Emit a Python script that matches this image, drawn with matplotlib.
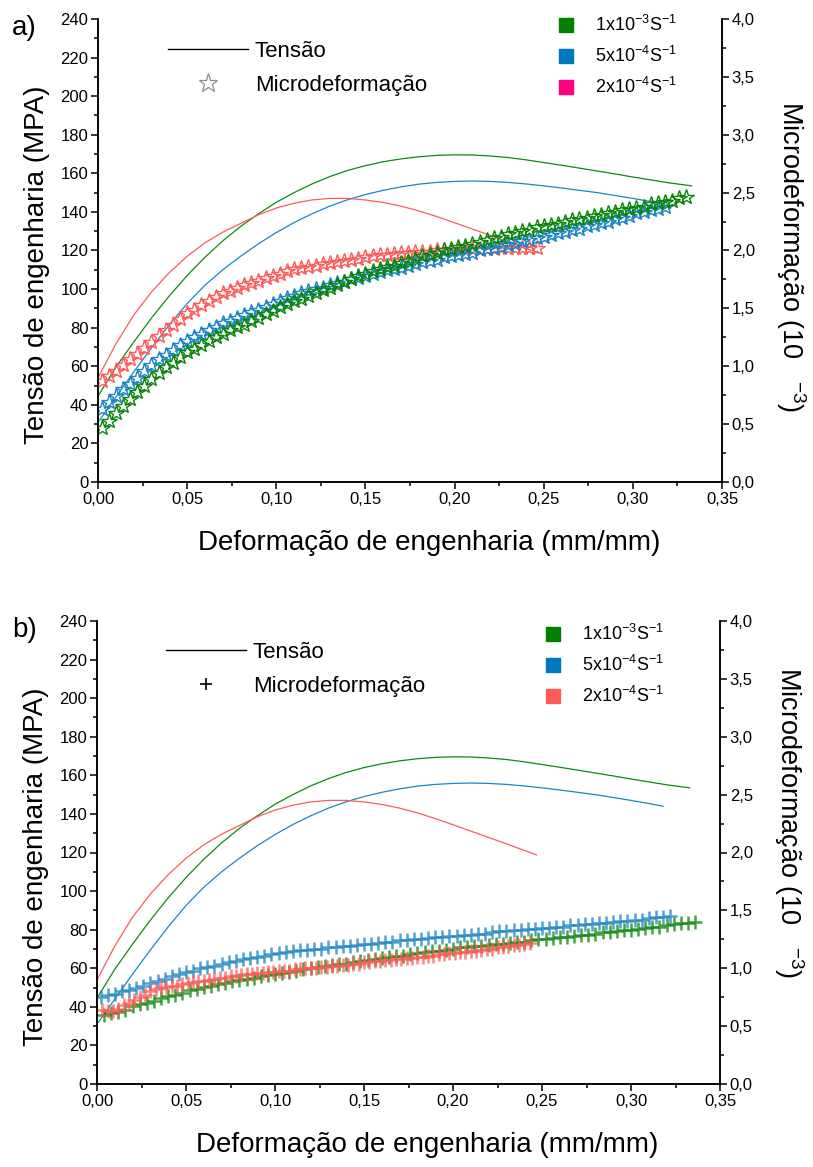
import numpy as np
import matplotlib
matplotlib.use('Agg')
import matplotlib.pyplot as plt
from matplotlib.lines import Line2D
from matplotlib.ticker import MultipleLocator, FuncFormatter

plt.rcParams['font.family'] = ['Liberation Sans', 'DejaVu Sans']
plt.rcParams['mathtext.fontset'] = 'custom'
plt.rcParams['mathtext.rm'] = 'Liberation Sans'
plt.rcParams['mathtext.it'] = 'Liberation Sans:italic'
plt.rcParams['mathtext.bf'] = 'Liberation Sans:bold'

W, H = 813, 1167

RATE_LABELS = ['1x10$^{-3}$S$^{-1}$', '5x10$^{-4}$S$^{-1}$', '2x10$^{-4}$S$^{-1}$']

# engineering stress (MPa) vs engineering strain, one curve per strain rate
STRAIN_R1 = [0.00, 0.01, 0.02, 0.03, 0.04, 0.05, 0.06, 0.07, 0.08, 0.09, 0.10, 0.11, 0.12, 0.13, 0.14, 0.15, 0.16,
             0.17, 0.18, 0.19, 0.20, 0.21, 0.22, 0.23, 0.24, 0.25, 0.26, 0.27, 0.28, 0.29, 0.30, 0.31, 0.32, 0.333]
STRESS_R1 = [44.5, 59.5, 72.5, 85, 96.5, 107, 116.5, 125, 132.5, 139, 145, 150, 154.5, 158.3, 161.5, 164, 166,
             167.5, 168.6, 169.3, 169.6, 169.5, 169.0, 168.2, 167.0, 165.6, 164.2, 162.7, 161.2, 159.7, 158.1, 156.6,
             155.1, 153.5]
STRAIN_R2 = [0.00, 0.01, 0.02, 0.03, 0.04, 0.05, 0.06, 0.07, 0.08, 0.09, 0.10, 0.11, 0.12, 0.13, 0.14, 0.15, 0.16,
             0.17, 0.18, 0.19, 0.20, 0.21, 0.22, 0.23, 0.24, 0.25, 0.26, 0.27, 0.28, 0.29, 0.30, 0.31, 0.318]
STRESS_R2 = [31, 44, 57, 69.5, 81.5, 92.5, 102, 110, 117, 123.5, 129.3, 134.5, 139, 143, 146.3, 149, 151.2,
             153, 154.4, 155.3, 155.8, 156, 155.8, 155.3, 154.5, 153.5, 152.4, 151.2, 150, 148.5, 147, 145.4, 144]
STRAIN_R3 = [0.00, 0.01, 0.02, 0.03, 0.04, 0.05, 0.06, 0.07, 0.08, 0.09, 0.10, 0.11, 0.12, 0.13, 0.14, 0.15, 0.16,
             0.17, 0.18, 0.19, 0.20, 0.21, 0.22, 0.23, 0.24, 0.247]
STRESS_R3 = [54, 71.5, 86.5, 98.5, 108.5, 117, 124, 129.5, 134, 138.5, 142, 144.5, 146.2, 147, 147, 146.2, 144.9,
             143, 140.5, 137.6, 134.4, 131.1, 127.8, 124.5, 121.1, 118.7]

# microstrain (10^-3), panel a: sampled every 0.004 mm/mm
STEP_A = 0.004
START_A = [0.002, 0.002, 0.002]
MICRO_A_R1 = [0.47, 0.53, 0.60, 0.66, 0.72, 0.78, 0.83, 0.89, 0.94, 0.99, 1.03, 1.08, 1.12, 1.15, 1.18, 1.22, 1.25, 1.28,
              1.31, 1.34, 1.36, 1.39, 1.42, 1.45, 1.48, 1.51, 1.54, 1.56, 1.58, 1.61, 1.63, 1.66, 1.68, 1.70, 1.73, 1.75,
              1.78, 1.80, 1.82, 1.84, 1.86, 1.87, 1.89, 1.91, 1.93, 1.95, 1.96, 1.98, 2.00, 2.01, 2.03, 2.04, 2.06, 2.07,
              2.09, 2.11, 2.12, 2.14, 2.15, 2.17, 2.18, 2.20, 2.21, 2.22, 2.23, 2.25, 2.26, 2.27, 2.28, 2.30, 2.31, 2.32,
              2.33, 2.35, 2.36, 2.37, 2.38, 2.40, 2.41, 2.42, 2.43, 2.45, 2.46]
MICRO_A_R2 = [0.63, 0.69, 0.74, 0.80, 0.85, 0.90, 0.96, 1.01, 1.06, 1.10, 1.14, 1.18, 1.22, 1.25, 1.28, 1.31, 1.34, 1.37,
              1.39, 1.42, 1.44, 1.47, 1.49, 1.51, 1.54, 1.56, 1.59, 1.61, 1.63, 1.65, 1.67, 1.68, 1.70, 1.72, 1.73, 1.75,
              1.76, 1.78, 1.80, 1.81, 1.83, 1.84, 1.85, 1.87, 1.88, 1.90, 1.91, 1.92, 1.94, 1.95, 1.96, 1.97, 1.98, 2.00,
              2.01, 2.02, 2.03, 2.05, 2.06, 2.08, 2.09, 2.11, 2.12, 2.13, 2.15, 2.16, 2.18, 2.19, 2.21, 2.22, 2.24, 2.25,
              2.27, 2.28, 2.30, 2.32, 2.33, 2.35, 2.36, 2.38]
MICRO_A_R3 = [0.87, 0.92, 0.96, 1.01, 1.06, 1.11, 1.16, 1.21, 1.26, 1.31, 1.36, 1.41, 1.46, 1.49, 1.53, 1.56, 1.60, 1.63,
              1.65, 1.68, 1.70, 1.72, 1.74, 1.76, 1.78, 1.80, 1.82, 1.84, 1.85, 1.86, 1.87, 1.88, 1.89, 1.90, 1.91, 1.92,
              1.93, 1.94, 1.95, 1.96, 1.96, 1.97, 1.98, 1.98, 1.99, 1.99, 1.99, 2.00, 2.00, 2.00, 2.00, 2.01, 2.01, 2.01,
              2.01, 2.01, 2.02, 2.02, 2.02, 2.02, 2.02, 2.02]

# microstrain (10^-3), panel b
STEP_B = [0.004, 0.004, 0.003]
START_B = [0.004, 0.002, 0.003]
MICRO_B_R1 = [0.60, 0.61, 0.62, 0.64, 0.67, 0.69, 0.70, 0.72, 0.74, 0.76, 0.77, 0.79, 0.81, 0.82, 0.84, 0.85, 0.86, 0.87,
              0.89, 0.90, 0.91, 0.92, 0.93, 0.94, 0.95, 0.96, 0.97, 0.98, 0.99, 1.00, 1.01, 1.02, 1.03, 1.04, 1.04, 1.05,
              1.06, 1.07, 1.08, 1.09, 1.10, 1.11, 1.11, 1.12, 1.13, 1.14, 1.15, 1.15, 1.16, 1.17, 1.18, 1.18, 1.19, 1.19,
              1.20, 1.21, 1.21, 1.22, 1.23, 1.23, 1.24, 1.25, 1.25, 1.26, 1.27, 1.27, 1.28, 1.29, 1.29, 1.30, 1.31, 1.31,
              1.32, 1.33, 1.33, 1.34, 1.35, 1.36, 1.36, 1.37, 1.38, 1.39, 1.39, 1.40]
MICRO_B_R2 = [0.75, 0.77, 0.78, 0.80, 0.81, 0.83, 0.85, 0.87, 0.89, 0.91, 0.93, 0.95, 0.97, 0.98, 1.00, 1.01, 1.02, 1.04,
              1.05, 1.06, 1.08, 1.09, 1.10, 1.11, 1.12, 1.13, 1.14, 1.15, 1.16, 1.16, 1.17, 1.17, 1.18, 1.18, 1.19, 1.19,
              1.20, 1.21, 1.21, 1.22, 1.23, 1.23, 1.24, 1.24, 1.25, 1.25, 1.26, 1.27, 1.27, 1.28, 1.28, 1.29, 1.29, 1.30,
              1.30, 1.31, 1.32, 1.32, 1.33, 1.33, 1.34, 1.34, 1.35, 1.35, 1.36, 1.36, 1.37, 1.37, 1.38, 1.38, 1.39, 1.39,
              1.40, 1.41, 1.41, 1.42, 1.42, 1.43, 1.44, 1.44, 1.45]
MICRO_B_R3 = [0.64, 0.63, 0.63, 0.65, 0.68, 0.70, 0.73, 0.75, 0.77, 0.80, 0.82, 0.83, 0.84, 0.85, 0.85, 0.86, 0.87, 0.88,
              0.89, 0.89, 0.90, 0.91, 0.92, 0.92, 0.93, 0.93, 0.94, 0.95, 0.95, 0.96, 0.96, 0.97, 0.97, 0.98, 0.98, 0.98,
              0.99, 0.99, 1.00, 1.00, 1.00, 1.01, 1.01, 1.02, 1.02, 1.03, 1.03, 1.04, 1.04, 1.05, 1.05, 1.06, 1.06, 1.07,
              1.07, 1.08, 1.08, 1.09, 1.09, 1.10, 1.10, 1.11, 1.11, 1.12, 1.12, 1.13, 1.13, 1.14, 1.14, 1.15, 1.15, 1.16,
              1.17, 1.17, 1.18, 1.18, 1.19, 1.20, 1.20, 1.21, 1.22]

LINE_COLORS = ['#108a10', '#1a86c8', '#ff5a5a']
MICRO_COLORS = ['#0a850a', '#1a84c4', '#ff5a5a']
LEGEND_COLORS_A = ['#008000', '#0078c0', '#ff0080']
LEGEND_COLORS_B = ['#008000', '#0078c0', '#ff5a5a']


def comma_fmt(decimals):
    return FuncFormatter(lambda v, pos: f'{v:.{decimals}f}'.replace('.', ','))


def strain_grid(start, step, n):
    return start + step * np.arange(n)


fig = plt.figure(figsize=(W / 100, H / 100), dpi=100)


def draw_panel(box, micro, micro_style, micro_order, legend_colors, micro_handle, tag, tag_y,
               leg1_xy, leg2_xy, right_label_y):
    left, top, right, bottom = box
    ax = fig.add_axes([left / W, 1 - bottom / H, (right - left) / W, (bottom - top) / H])
    ax2 = ax.twinx()

    stress = [(STRAIN_R1, STRESS_R1), (STRAIN_R2, STRESS_R2), (STRAIN_R3, STRESS_R3)]
    for (x, y), c in zip(stress, LINE_COLORS):
        ax.plot(x, y, color=c, lw=0.9)

    for i in micro_order:
        x, y = micro[i]
        ax2.plot(x, y, ls='none', color=MICRO_COLORS[i], **micro_style)

    ax.set_xlim(0, 0.35)
    ax.set_ylim(0, 240)
    ax2.set_ylim(0, 4.0)
    ax.xaxis.set_major_locator(MultipleLocator(0.05))
    ax.xaxis.set_minor_locator(MultipleLocator(0.025))
    ax.yaxis.set_major_locator(MultipleLocator(20))
    ax.yaxis.set_minor_locator(MultipleLocator(10))
    ax2.yaxis.set_major_locator(MultipleLocator(0.5))
    ax2.yaxis.set_minor_locator(MultipleLocator(0.25))
    ax.xaxis.set_major_formatter(comma_fmt(2))
    ax2.yaxis.set_major_formatter(comma_fmt(1))

    for a in (ax, ax2):
        a.spines['top'].set_visible(False)
        for s in a.spines.values():
            s.set_linewidth(1.1)
        a.tick_params(which='major', direction='out', length=5, width=1.1, labelsize=12, pad=2)
        a.tick_params(which='minor', direction='out', length=3, width=1.1)

    ax.set_xlabel('Deformação de engenharia (mm/mm)', fontsize=20)
    ax.set_ylabel('Tensão de engenharia (MPA)', fontsize=20)
    ax.xaxis.set_label_coords(0.53, -0.104)
    ax.yaxis.set_label_coords(-0.077, 0.47)
    ax2.set_ylabel('Microdeformação (10   $^{-3}$)', fontsize=19.5, rotation=-90,
                   va='center', ha='center', rotation_mode='anchor')
    ax2.yaxis.set_label_coords(1.11, right_label_y)

    fig.text(12 / W, 1 - tag_y / H, tag, fontsize=20, va='center', ha='left')

    leg1 = ax2.legend([Line2D([], [], color='black', lw=1.0), micro_handle],
                      ['Tensão', 'Microdeformação'], loc='upper left',
                      bbox_to_anchor=(leg1_xy[0] / W, 1 - leg1_xy[1] / H), bbox_transform=fig.transFigure,
                      frameon=False, fontsize=16, handlelength=3.6, handletextpad=0.3,
                      labelspacing=0.58, borderpad=0, borderaxespad=0)
    ax2.add_artist(leg1)
    squares = [Line2D([], [], ls='none', marker='s', ms=9.5, color=c) for c in legend_colors]
    ax2.legend(squares, RATE_LABELS, loc='upper left',
               bbox_to_anchor=(leg2_xy[0] / W, 1 - leg2_xy[1] / H), bbox_transform=fig.transFigure,
               frameon=False, fontsize=13, handlelength=1.0, handletextpad=1.1,
               labelspacing=0.6, borderpad=0, borderaxespad=0)
    return ax, ax2


micro_a = [(strain_grid(START_A[i], STEP_A, len(y)), y) for i, y in enumerate([MICRO_A_R1, MICRO_A_R2, MICRO_A_R3])]
micro_b = [(strain_grid(START_B[i], STEP_B[i], len(y)), y) for i, y in enumerate([MICRO_B_R1, MICRO_B_R2, MICRO_B_R3])]

star_style = dict(marker='*', ms=11.5, mfc='none', mew=1.0)
plus_style = dict(marker='+', ms=9.5, mew=1.8, alpha=0.75)

star_handle = Line2D([], [], ls='none', marker='*', ms=14, mfc='none', mec='#8c8c8c', mew=0.9)
plus_handle = Line2D([], [], ls='none', marker='+', ms=8, color='black', mew=1.2)

draw_panel((98, 19, 722, 482), micro_a, star_style, [2, 1, 0], LEGEND_COLORS_A, star_handle,
           'a)', 28, (168, 41), (557, 15), 0.487)
draw_panel((97, 621, 720, 1084), micro_b, plus_style, [0, 1, 2], LEGEND_COLORS_B, plus_handle,
           'b)', 630, (166, 642), (544, 624), 0.565)

fig.savefig('out.png', dpi=100)
